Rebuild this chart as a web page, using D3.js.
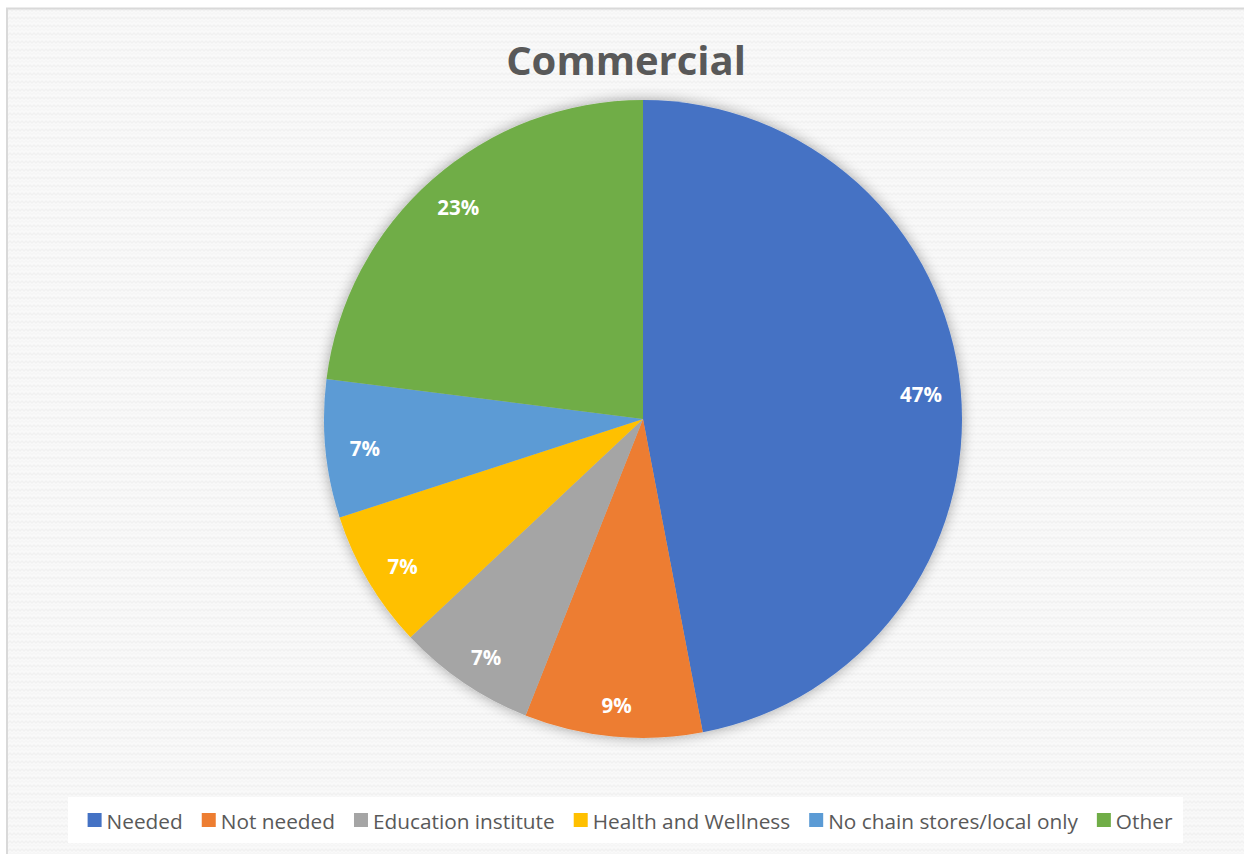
<!DOCTYPE html>
<html>
<head>
<meta charset="utf-8">
<script src="https://cdn.jsdelivr.net/npm/d3@7"></script>
<style>
  html, body { margin: 0; padding: 0; background: #ffffff; }
  svg { display: block; }
</style>
</head>
<body>
<svg id="chart" width="1244" height="854"></svg>
<script>
const categories = ["Needed", "Not needed", "Education institute", "Health and Wellness", "No chain stores/local only", "Other"];
const values = [47, 9, 7, 7, 7, 23];
const labels = ["47%", "9%", "7%", "7%", "7%", "23%"];
const colors = ["#4472C4", "#ED7D31", "#A5A5A5", "#FFC000", "#5B9BD5", "#70AD47"];
const title = "Commercial";

const svg = d3.select("#chart");
const W = 1244, H = 854;

const defs = svg.append("defs");
const pat = defs.append("pattern").attr("id", "tex").attr("patternUnits", "userSpaceOnUse")
  .attr("width", 8).attr("height", 8);
pat.append("rect").attr("width", 8).attr("height", 8).attr("fill", "#f9f9f9");
pat.append("path").attr("d", "M0,2 L2,0 L4,2 L6,0 L8,2 L8,4 L6,2 L4,4 L2,2 L0,4 Z").attr("fill", "#f1f1f1");
pat.append("path").attr("d", "M0,6 L2,4 L4,6 L6,4 L8,6 L8,7 L6,5 L4,7 L2,5 L0,7 Z").attr("fill", "#f4f4f4");

const shadow = defs.append("filter").attr("id", "shadow")
  .attr("x", "-20%").attr("y", "-20%").attr("width", "140%").attr("height", "140%");
shadow.append("feGaussianBlur").attr("in", "SourceAlpha").attr("stdDeviation", 7).attr("result", "b");
shadow.append("feComponentTransfer").attr("in", "b").attr("result", "b2")
  .append("feFuncA").attr("type", "linear").attr("slope", 0.35);
const merge = shadow.append("feMerge");
merge.append("feMergeNode").attr("in", "b2");
merge.append("feMergeNode").attr("in", "SourceGraphic");

svg.append("rect").attr("x", 7).attr("y", 8.5).attr("width", W + 20).attr("height", H + 20)
  .attr("fill", "url(#tex)").attr("stroke", "#d9d9d9").attr("stroke-width", 2);

svg.append("text").attr("x", 626).attr("y", 75).attr("text-anchor", "middle")
  .attr("font-family", "'Open Sans', sans-serif").attr("font-weight", "bold")
  .attr("font-size", 40).attr("fill", "#595959").text(title);

const cx = 643, cy = 419, r = 319;
const pie = d3.pie().sort(null).value(d => d)(values);
const arc = d3.arc().innerRadius(0).outerRadius(r);
const labelArc = d3.arc().innerRadius(285).outerRadius(285);

const g = svg.append("g").attr("transform", `translate(${cx},${cy})`);
g.append("g").attr("filter", "url(#shadow)")
  .selectAll("path").data(pie).join("path")
  .attr("d", arc).attr("fill", (d, i) => colors[i]);

g.selectAll("text.lbl").data(pie).join("text").attr("class", "lbl")
  .attr("transform", d => { const c = labelArc.centroid(d); return `translate(${c[0] * 0.98},${c[1] + 2})`; })
  .attr("text-anchor", "middle").attr("dominant-baseline", "central")
  .attr("font-family", "'Open Sans', sans-serif").attr("font-weight", "bold")
  .attr("font-size", 20.5).attr("fill", "#ffffff")
  .text((d, i) => labels[i]);

const lg = svg.append("g");
lg.append("rect").attr("x", 68).attr("y", 797).attr("width", 1115).attr("height", 46).attr("fill", "#ffffff");
const fontSize = 20.8, sq = 14, gapSq = 5, gapItem = 19;
const items = lg.selectAll("g.item").data(categories).join("g").attr("class", "item");
items.append("rect").attr("width", sq).attr("height", sq).attr("y", -sq / 2 - 1)
  .attr("fill", (d, i) => colors[i]);
items.append("text").attr("x", sq + gapSq).attr("dominant-baseline", "central")
  .attr("font-family", "'Open Sans', sans-serif").attr("font-size", fontSize)
  .attr("fill", "#595959").text(d => d);
let widths = [];
items.each(function () { widths.push(d3.select(this).select("text").node().getComputedTextLength() + sq + gapSq); });
const total = d3.sum(widths) + gapItem * (widths.length - 1);
let x = 630 - total / 2;
items.each(function (d, i) {
  d3.select(this).attr("transform", `translate(${x},821)`);
  x += widths[i] + gapItem;
});
</script>
</body>
</html>
